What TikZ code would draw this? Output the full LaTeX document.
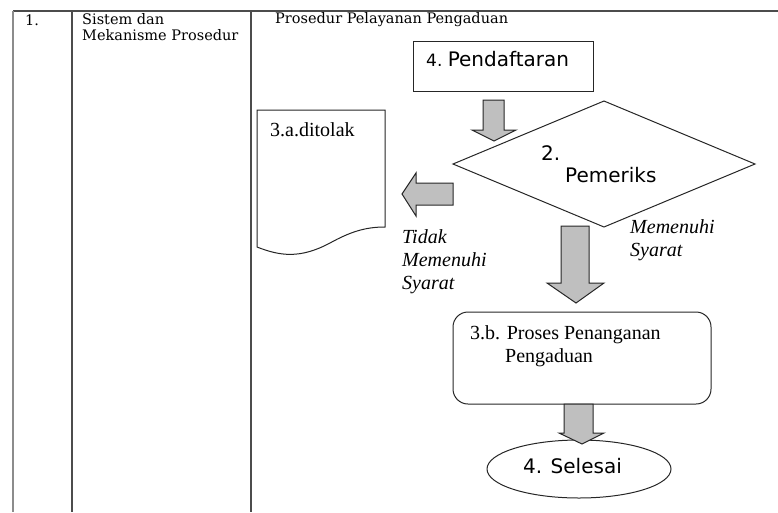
\documentclass[tikz,border=0pt]{standalone}
\usepackage{fontspec}
\setmainfont{Liberation Serif}
\newfontfamily\tabfont{DejaVu Serif}
\newfontfamily\boxsans{DejaVu Sans}
\usetikzlibrary{shapes.geometric}
\tikzset{
  tabline/.style={draw=black!70, line width=1.2pt},
  tabtext/.style={font=\tabfont\fontsize{14.5}{16}\selectfont, anchor=west, inner sep=0pt, align=left},
  shapeline/.style={draw=black!85, line width=1pt},
  blockarrow/.style={draw=black!85, fill=black!25, line width=1pt, line join=miter},
  sanslabel/.style={font=\boxsans\fontsize{20}{22}\selectfont, anchor=west, inner sep=0pt},
  seriflabel/.style={font=\fontsize{20}{22}\selectfont, anchor=west, inner sep=0pt, align=left},
  itallabel/.style={font=\itshape\fontsize{20}{23}\selectfont, anchor=north west, inner sep=0pt, align=left},
}
\begin{document}
\begin{tikzpicture}[x=1pt,y=-1pt]
\useasboundingbox (0,0) rectangle (778,512);
% table
\draw[tabline] (13,11) -- (778,11);
\draw[draw=black!45, line width=1.2pt] (13,11) -- (13,512);
\draw[tabline] (72,11) -- (72,512);
\draw[tabline] (251,11) -- (251,512);
\node[tabtext] (num) at (25,20) {1.};
\node[tabtext, anchor=north west] (sis) at (82,13) {Sistem dan\\Mekanisme Prosedur};
\node[tabtext] (title) at (275,20) {Prosedur Pelayanan Pengaduan};
% Pendaftaran box
\draw[shapeline] (413,41) rectangle (593,91);
\node[sanslabel] (pend) at (426,59) {\fontsize{17}{20}\selectfont 4.\ \fontsize{20}{22}\selectfont Pendaftaran};
% arrow 1
\draw[blockarrow] (483,100) -- (504,100) -- (504,130) -- (516,130) -- (494,141) -- (472,130) -- (483,130) -- cycle;
% diamond
\draw[shapeline, fill=white] (604,101) -- (755,164) -- (604,227) -- (453,164) -- cycle;
\node[sanslabel] (pem1) at (541,153) {2.};
\node[sanslabel] (pem2) at (565,175) {Pemeriks};
% left arrow
\draw[blockarrow] (453,183) -- (416,183) -- (416,173) -- (402,194) -- (416,216) -- (416,205) -- (453,205) -- cycle;
% document
\draw[shapeline, fill=white] (257,110) -- (385,110) -- (385,227)
  .. controls (365,227) and (350,232) .. (330,243)
  .. controls (300,259) and (280,256) .. (257,247) -- cycle;
\node[seriflabel] (doc) at (270,130) {3.a.ditolak};
\node[itallabel] (tidak) at (402,229) {Tidak\\Memenuhi\\Syarat};
\node[itallabel] (memenuhi) at (630,219) {Memenuhi\\Syarat};
% big arrow
\draw[blockarrow] (561,226) -- (589,226) -- (589,283) -- (604,283) -- (576,303) -- (547,283) -- (561,283) -- cycle;
% process box
\draw[shapeline, rounded corners=15pt] (453,312) rectangle (711,404);
\node[seriflabel] (proc) at (470,335) {3.b. Proses Penanganan};
\node[seriflabel] (proc2) at (505,358) {Pengaduan};
% ellipse
\node[shapeline, ellipse, minimum width=184pt, minimum height=58pt, inner sep=0pt] (end) at (579,469) {};
% arrow 3
\draw[blockarrow] (564,404) -- (593,404) -- (593,433) -- (604,433) -- (582,444) -- (559,433) -- (564,433) -- cycle;
\node[sanslabel] (sel) at (523,466) {4. Selesai};
\end{tikzpicture}
\end{document}
